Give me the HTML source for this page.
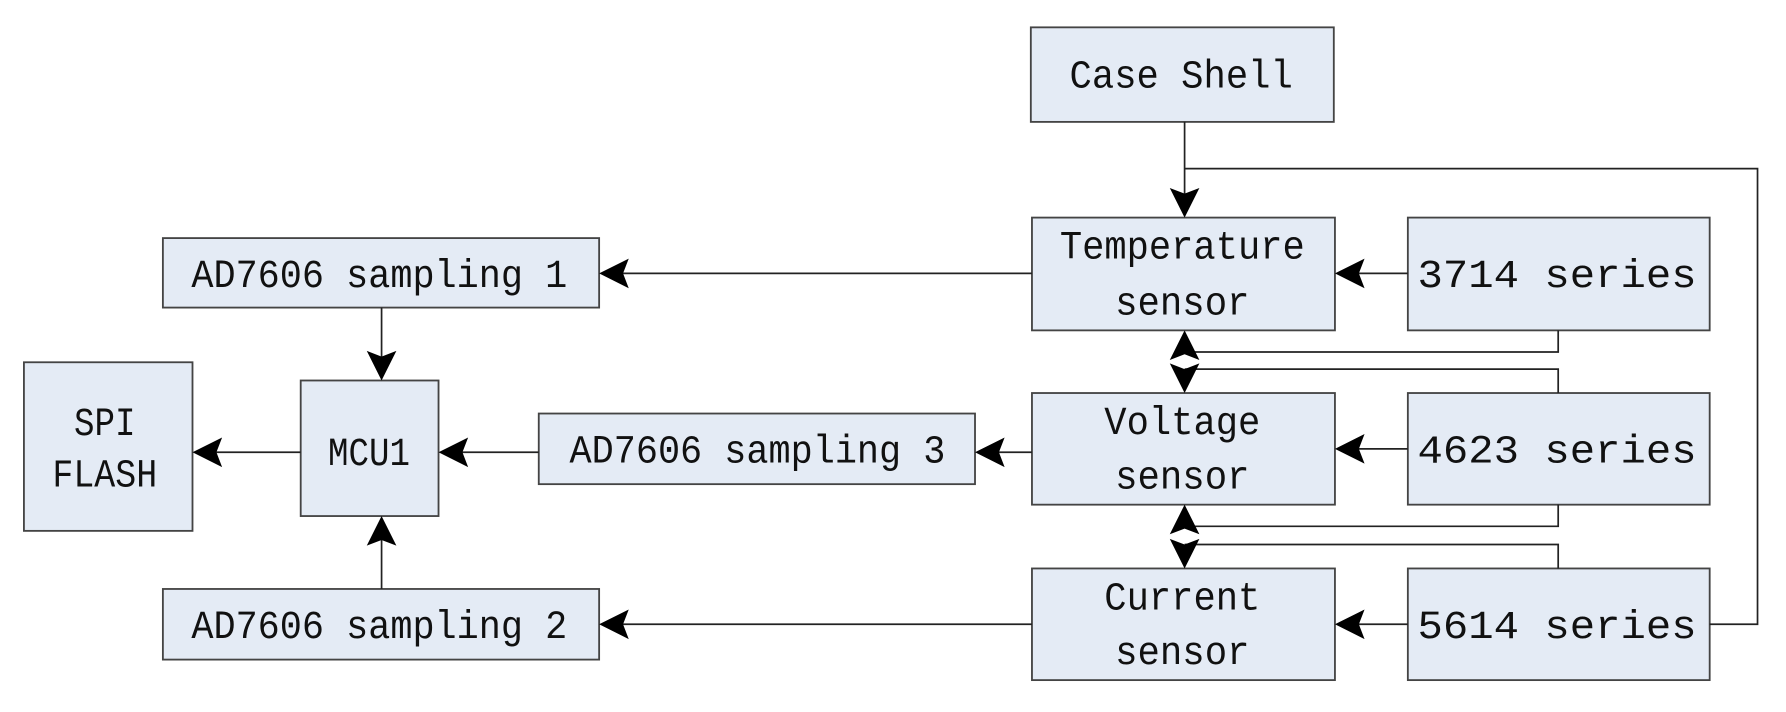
<!DOCTYPE html>
<html><head><meta charset="utf-8"><style>html,body{margin:0;padding:0;background:#fff}svg{display:block}</style></head>
<body>
<svg width="1786" height="712" viewBox="0 0 1568 625" preserveAspectRatio="none" xmlns="http://www.w3.org/2000/svg">
<defs>
<path id="al" d="M0,0 L26,-13 L21,0 L26,13 Z" fill="#000"/>
</defs>
<g fill="#e4ebf5" stroke="#444" stroke-width="1.6">
<rect x="905" y="24" width="266" height="83"/>
<rect x="906" y="191" width="266" height="99"/>
<rect x="1236" y="191" width="265" height="99"/>
<rect x="906" y="345" width="266" height="98"/>
<rect x="1236" y="345" width="265" height="98"/>
<rect x="906" y="499" width="266" height="98"/>
<rect x="1236" y="499" width="265" height="98"/>
<rect x="143" y="209" width="383" height="61"/>
<rect x="473" y="363" width="383" height="62"/>
<rect x="143" y="517" width="383" height="62"/>
<rect x="264" y="334" width="121" height="119"/>
<rect x="21" y="318" width="148" height="148"/>
</g>
<g fill="none" stroke="#222" stroke-width="1.5">
<path d="M1040,107 V175"/>
<path d="M1501,548 H1543 V148 H1040"/>
<path d="M906,240 H545"/>
<path d="M1236,240 H1190"/>
<path d="M335,270 V318"/>
<path d="M264,397 H185"/>
<path d="M473,397 H400"/>
<path d="M906,397 H870"/>
<path d="M1236,394 H1190"/>
<path d="M335,517 V470"/>
<path d="M906,548 H545"/>
<path d="M1236,548 H1190"/>
<path d="M1368,290 V309 H1040"/>
<path d="M1368,345 V324 H1040"/>
<path d="M1368,443 V462 H1040"/>
<path d="M1368,499 V478 H1040"/>
</g>
<g>
<use href="#al" transform="translate(1040,191) rotate(-90)"/>
<use href="#al" transform="translate(526,240)"/>
<use href="#al" transform="translate(1172,240)"/>
<use href="#al" transform="translate(335,334) rotate(-90)"/>
<use href="#al" transform="translate(169,397)"/>
<use href="#al" transform="translate(385,397)"/>
<use href="#al" transform="translate(856,397)"/>
<use href="#al" transform="translate(1172,394)"/>
<use href="#al" transform="translate(335,453) rotate(90)"/>
<use href="#al" transform="translate(526,548)"/>
<use href="#al" transform="translate(1172,548)"/>
<use href="#al" transform="translate(1040,290) rotate(90)"/>
<use href="#al" transform="translate(1040,345) rotate(-90)"/>
<use href="#al" transform="translate(1040,443) rotate(90)"/>
<use href="#al" transform="translate(1040,499) rotate(-90)"/>
</g>
<g font-family="'Liberation Mono', monospace" font-size="35" fill="#111" text-anchor="middle">
<text x="1037" y="77" textLength="196" lengthAdjust="spacingAndGlyphs">Case Shell</text>
<text x="1038" y="227" textLength="215" lengthAdjust="spacingAndGlyphs">Temperature</text>
<text x="1038" y="276" textLength="118" lengthAdjust="spacingAndGlyphs">sensor</text>
<text x="1038" y="381" textLength="137" lengthAdjust="spacingAndGlyphs">Voltage</text>
<text x="1038" y="429" textLength="118" lengthAdjust="spacingAndGlyphs">sensor</text>
<text x="1038" y="535" textLength="137" lengthAdjust="spacingAndGlyphs">Current</text>
<text x="1038" y="583" textLength="118" lengthAdjust="spacingAndGlyphs">sensor</text>
<text x="1367" y="252" textLength="245" lengthAdjust="spacingAndGlyphs">3714 series</text>
<text x="1367" y="406" textLength="245" lengthAdjust="spacingAndGlyphs">4623 series</text>
<text x="1367" y="560" textLength="245" lengthAdjust="spacingAndGlyphs">5614 series</text>
<text x="333" y="252" textLength="330" lengthAdjust="spacingAndGlyphs">AD7606 sampling 1</text>
<text x="665" y="406" textLength="330" lengthAdjust="spacingAndGlyphs">AD7606 sampling 3</text>
<text x="333" y="560" textLength="330" lengthAdjust="spacingAndGlyphs">AD7606 sampling 2</text>
<text x="324" y="408" textLength="72" lengthAdjust="spacingAndGlyphs">MCU1</text>
<text x="92" y="382" textLength="54" lengthAdjust="spacingAndGlyphs">SPI</text>
<text x="92" y="427" textLength="92" lengthAdjust="spacingAndGlyphs">FLASH</text>
</g>
</svg>
</body></html>
